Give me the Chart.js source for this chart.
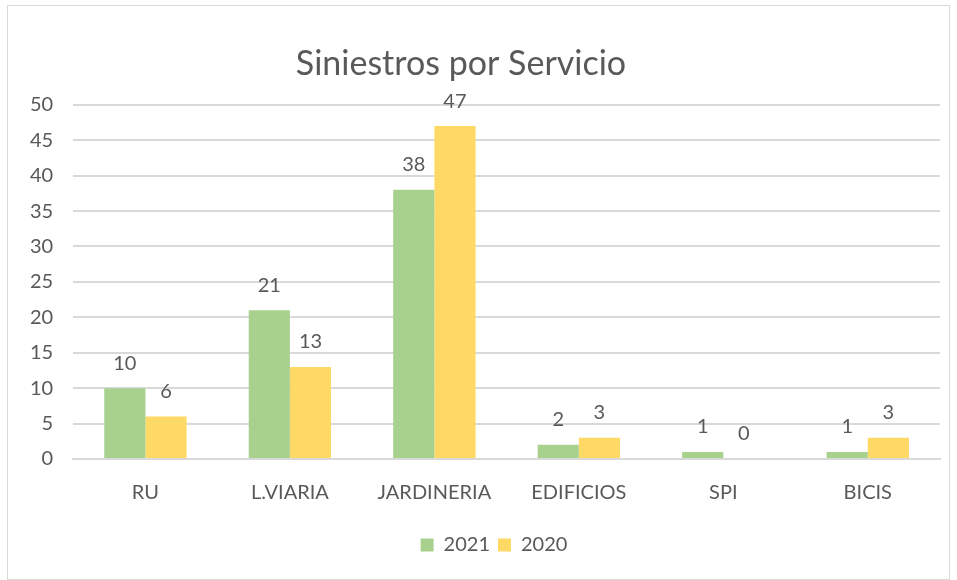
<!DOCTYPE html>
<html>
<head>
<meta charset="utf-8">
<script src="https://cdn.jsdelivr.net/npm/chart.js@4.4.1/dist/chart.umd.min.js"></script>
<style>
  body { margin: 0; background: #fff; }
  #wrap { position: absolute; left: 7px; top: 5px; width: 941px; height: 573px; border: 1px solid #d9d9d9; }
</style>
</head>
<body>
<div id="wrap"><canvas id="chart"></canvas></div>
<script>
const servicios = ['RU', 'L.VIARIA', 'JARDINERIA', 'EDIFICIOS', 'SPI', 'BICIS'];
const siniestros2021 = [10, 21, 38, 2, 1, 1];
const siniestros2020 = [6, 13, 47, 3, 0, 3];

const textColor = '#595959';
const fontFamily = 'Lato, "Open Sans", sans-serif';

// values printed above each bar
const barLabels = {
  id: 'barLabels',
  afterDatasetsDraw(chart) {
    const ctx = chart.ctx;
    ctx.save();
    ctx.fillStyle = textColor;
    ctx.font = '20px ' + fontFamily;
    ctx.textAlign = 'center';
    ctx.textBaseline = 'middle';
    chart.data.datasets.forEach((ds, i) => {
      chart.getDatasetMeta(i).data.forEach((bar, j) => {
        ctx.fillText(String(ds.data[j]), bar.x, bar.y - 25);
      });
    });
    ctx.restore();
  }
};

// title sits a little left of centre, legend a little right
const nudgeBoxes = {
  id: 'nudgeBoxes',
  afterLayout(chart) {
    const t = chart.titleBlock, l = chart.legend;
    if (t) { t.left -= 14; t.right -= 14; }
    if (l) { l.left += 19; l.right += 19; }
  }
};

new Chart(document.getElementById('chart'), {
  type: 'bar',
  data: {
    labels: servicios,
    datasets: [
      { label: '2021', data: siniestros2021, backgroundColor: '#A9D18E' },
      { label: '2020', data: siniestros2020, backgroundColor: '#FFD966' }
    ]
  },
  options: {
    responsive: true,
    maintainAspectRatio: false,
    animation: false,
    datasets: { bar: { categoryPercentage: 0.57, barPercentage: 1 } },
    layout: { padding: { top: 38, left: 2, right: 9, bottom: 14 } },
    plugins: {
      title: {
        display: true,
        text: 'Siniestros por Servicio',
        color: textColor,
        font: { family: fontFamily, size: 34, weight: 'normal' },
        padding: { top: 0, bottom: 20 }
      },
      legend: {
        position: 'bottom',
        labels: {
          color: textColor,
          font: { family: fontFamily, size: 20 },
          boxWidth: 13,
          boxHeight: 13,
          padding: 8
        }
      },
      tooltip: { enabled: false }
    },
    scales: {
      x: {
        grid: { display: false, drawTicks: false },
        border: { color: '#d9d9d9', width: 2 },
        ticks: { color: textColor, font: { family: fontFamily, size: 20 }, padding: 22 }
      },
      y: {
        min: 0,
        max: 50,
        grid: { color: '#d9d9d9', lineWidth: 2, drawTicks: false },
        border: { display: false },
        ticks: { stepSize: 5, color: textColor, font: { family: fontFamily, size: 20 }, padding: 20 }
      }
    }
  },
  plugins: [barLabels, nudgeBoxes]
});
</script>
</body>
</html>
